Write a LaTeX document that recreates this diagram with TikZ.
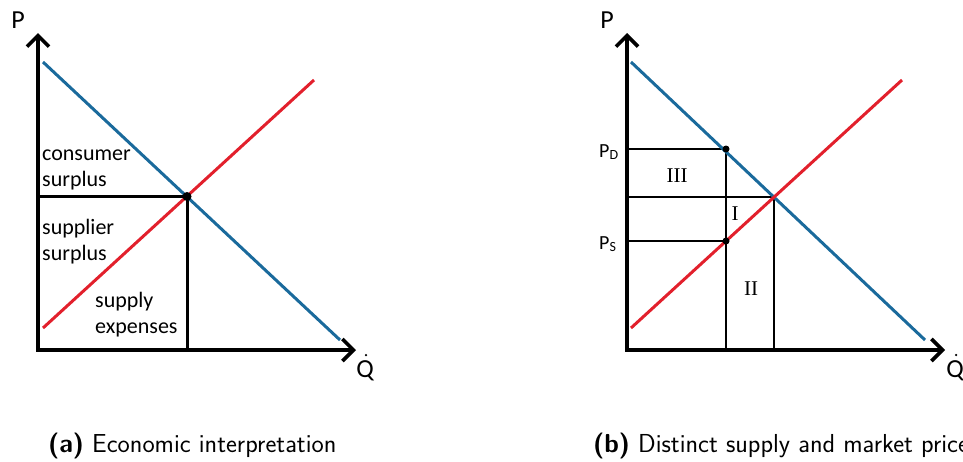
\documentclass[tikz,border=0pt]{standalone}
\usepackage{fontspec}
\setmainfont{Carlito}
\newfontfamily\romfont{Liberation Serif}
\setsansfont{Latin Modern Sans}
\usetikzlibrary{arrows.meta}
\definecolor{dblue}{RGB}{26,106,156}
\definecolor{sred}{RGB}{226,32,44}
\tikzset{
  axis/.style={line width=4pt, line cap=butt, -{Straight Barb[length=11pt,width=22pt,line width=3.6pt]}},
  demand/.style={dblue, line width=3pt},
  supply/.style={sred, line width=3pt},
  guide/.style={black, line width=3pt},
  guidethin/.style={black, line width=2pt},
  lbl/.style={font=\fontsize{22}{26}\selectfont, align=left, anchor=west, inner sep=0pt},
  axlbl/.style={font=\fontsize{26}{28}\selectfont, inner sep=0pt},
  rom/.style={font=\romfont\fontsize{21}{24}\selectfont, inner sep=0pt},
  dot/.style={circle, fill=black, inner sep=0pt, minimum size=9pt},
  captxt/.style={font=\sffamily\fontsize{26}{30}\selectfont, anchor=base west, inner sep=0pt}
}
\begin{document}
\begin{tikzpicture}[x=1pt,y=-1pt]
\useasboundingbox (0,0) rectangle (963,461);
% ---------- Panel (a)
\coordinate (o1) at (38,350);
\coordinate (ytop1) at (38,33);
\coordinate (xend1) at (356,350);
\coordinate (d1a) at (43,62);
\coordinate (d1b) at (340,340);
\coordinate (s1a) at (43,328);
\coordinate (s1b) at (314,80);
\coordinate (e1) at (187,196.5);
\coordinate (e1y) at (38,196.5);
\coordinate (e1x) at (187,350);
\draw[guide] (e1y) -- (e1);
\draw[guide] (e1) -- (e1x);
\draw[demand] (d1a) -- (d1b);
\draw[supply] (s1a) -- (s1b);
\node[dot] (eq1) at (e1) {};
\draw[axis] (o1) -- (ytop1);
\draw[axis] ([xshift=-2pt]o1) -- (xend1);
\node[axlbl] (p1) at (18,20) {P};
\node[axlbl] (q1) at (365,371) {Q};
\node[circle, fill=black, inner sep=0pt, minimum size=2.5pt] (q1d) at (366,355) {};
\node[lbl] (cs) at (42,170) {consumer\\surplus};
\node[lbl] (ss) at (42,242) {supplier\\surplus};
\node[lbl] (se) at (95,315) {supply\\expenses};
\node[captxt] (capa) at (48,452) {\textbf{(a)} Economic interpretation};
% ---------- Panel (b)
\coordinate (o2) at (627,350);
\coordinate (ytop2) at (627,33);
\coordinate (xend2) at (945,350);
\coordinate (d2a) at (631,62);
\coordinate (d2b) at (925,340);
\coordinate (s2a) at (631,328);
\coordinate (s2b) at (902,80);
\coordinate (e2) at (774,196.5);
\coordinate (e2y) at (627,196.5);
\coordinate (e2x) at (774,350);
\coordinate (pd) at (726,149);
\coordinate (pdy) at (627,149);
\coordinate (ps) at (726,241);
\coordinate (psy) at (627,241);
\coordinate (qx) at (726,350);
\draw[guidethin] (pdy) -- (pd);
\draw[guidethin] (psy) -- (ps);
\draw[guidethin] (e2y) -- (e2);
\draw[guidethin] (e2) -- (e2x);
\draw[guidethin] (pd) -- (qx);
\draw[demand] (d2a) -- (d2b);
\draw[supply] (s2a) -- (s2b);
\node[dot, minimum size=7pt] (dpd) at (pd) {};
\node[dot, minimum size=7pt] (dps) at (ps) {};
\draw[axis] (o2) -- (ytop2);
\draw[axis] ([xshift=-2pt]o2) -- (xend2);
\node[axlbl] (p2) at (607,20) {P};
\node[axlbl] (q2) at (955,371) {Q};
\node[circle, fill=black, inner sep=0pt, minimum size=2.5pt] (q2d) at (956,355) {};
\node[lbl, font=\fontsize{20}{22}\selectfont] (lpd) at (599,152) {P\raisebox{-2pt}{\fontsize{14}{15}\selectfont D}};
\node[lbl, font=\fontsize{20}{22}\selectfont] (lps) at (599,244) {P\raisebox{-2pt}{\fontsize{14}{15}\selectfont S}};
\node[rom] (r3) at (677,176) {III};
\node[rom] (r1) at (735,214) {I};
\node[rom] (r2) at (751,289) {II};
\node[captxt] (capb) at (593,452) {\textbf{(b)} Distinct supply and market price};
\end{tikzpicture}
\end{document}
